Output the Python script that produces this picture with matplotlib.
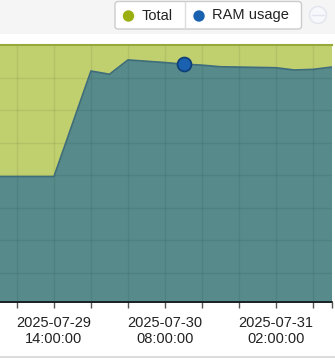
import numpy as np
import pandas as pd
import matplotlib
matplotlib.use('Agg')
import matplotlib.pyplot as plt
from matplotlib.patches import FancyBboxPatch, Rectangle, Circle

plt.rcParams['font.family'] = ['Liberation Sans', 'DejaVu Sans']

# data (GB)
times = ['2025-07-29 05:00', '2025-07-29 14:00', '2025-07-29 20:00', '2025-07-29 23:00',
         '2025-07-30 02:00', '2025-07-30 08:00', '2025-07-30 11:00', '2025-07-30 14:00',
         '2025-07-30 17:00', '2025-07-30 20:00', '2025-07-31 02:00', '2025-07-31 05:00',
         '2025-07-31 08:00', '2025-07-31 11:00']
ram_usage = [3.96, 3.96, 7.20, 7.10, 7.54, 7.46, 7.41, 7.38, 7.33, 7.32, 7.30, 7.23, 7.25, 7.32]
total = [8.0] * len(times)
marker_time = '2025-07-30 11:00'
marker_value = 7.41

tick_times = ['2025-07-29 08:00', '2025-07-29 14:00', '2025-07-29 20:00', '2025-07-30 02:00',
              '2025-07-30 08:00', '2025-07-30 14:00', '2025-07-30 20:00', '2025-07-31 02:00',
              '2025-07-31 08:00']
labelled = ['2025-07-29 14:00', '2025-07-30 08:00', '2025-07-31 02:00']

t = pd.to_datetime(times)
W, H = 335, 359
fig = plt.figure(figsize=(W / 100, H / 100), dpi=100)

# axes placement in pixels (y axis is off the left edge)
x_left_px, x_right_px = -1.5, 331.5
y_top_px, y_bot_px = 45, 302
ax = fig.add_axes([x_left_px / W, 1 - y_bot_px / H,
                   (x_right_px - x_left_px) / W, (y_bot_px - y_top_px) / H])

olive = '#c1d06f'
teal = '#578b8b'
ax.fill_between(t, 0, total, color=olive, lw=0, zorder=1)
ax.fill_between(t, 0, ram_usage, color=teal, lw=0, zorder=2)
ax.plot(t, total, color='#98a93c', lw=1.5, zorder=4, clip_on=False)
ax.plot(t, ram_usage, color='#3e6d7c', lw=1.3, zorder=4)
ax.plot(pd.to_datetime([marker_time]), [marker_value], 'o', ms=10, mfc='#1a62b0',
        mec='#0f3f78', mew=1.3, zorder=5)

ax.set_xlim(t[0], t[-1])
ax.set_ylim(0.11, 8)
ax.set_yticks(np.arange(1, 8))

ticks = list(pd.to_datetime(tick_times)) + [t[-1]]
ax.set_xticks(ticks)
lab = [pd.Timestamp(s).strftime('%Y-%m-%d\n%H:%M:%S') if s in labelled else ''
       for s in tick_times] + ['']
ax.set_xticklabels(lab, fontsize=10.5, color='#222222', linespacing=1.15)
ax.tick_params(axis='x', length=4, width=1, color='#555555', pad=6)
ax.tick_params(axis='y', length=0, labelleft=False)
ax.grid(True, color='black', alpha=0.07, lw=1, zorder=3)
ax.set_axisbelow(False)
ax.xaxis.get_gridlines()[-1].set_visible(False)
for s in ['top', 'left', 'right']:
    ax.spines[s].set_visible(False)
ax.spines['bottom'].set_color('#111111')
ax.spines['bottom'].set_linewidth(1.2)
ax.spines['bottom'].set_zorder(6)

# overlay for header band and legend
ov = fig.add_axes([0, 0, 1, 1], facecolor='none')
ov.set_xlim(0, W)
ov.set_ylim(H, 0)
ov.axis('off')
ov.add_patch(Rectangle((0, 0), W, 34, color='#f5f5f5', lw=0))
ov.add_patch(FancyBboxPatch((115, 1.5), 186.5, 27.5, boxstyle='round,pad=0,rounding_size=3',
                            fc='white', ec='#cccccc', lw=1))
ov.plot([185, 185], [1.5, 29], color='#dddddd', lw=1)
ov.add_patch(Circle((128.5, 16), 5, color='#9bb010'))
ov.text(142, 15.5, 'Total', fontsize=10.5, va='center', ha='left', color='#222222')
ov.add_patch(Circle((199, 16), 5, color='#1a62b0'))
ov.text(212, 15.5, 'RAM usage', fontsize=10.5, va='center', ha='left', color='#222222')
ov.add_patch(Circle((318, 15), 8.5, fc='#f7f8fb', ec='#e2e4ee', lw=1))
ov.plot([312, 324], [15, 15], color='#e2e4ee', lw=1)
ov.plot([0, W], [356.5, 356.5], color='#dddddd', lw=1.5)

fig.savefig('out.png', dpi=100)
